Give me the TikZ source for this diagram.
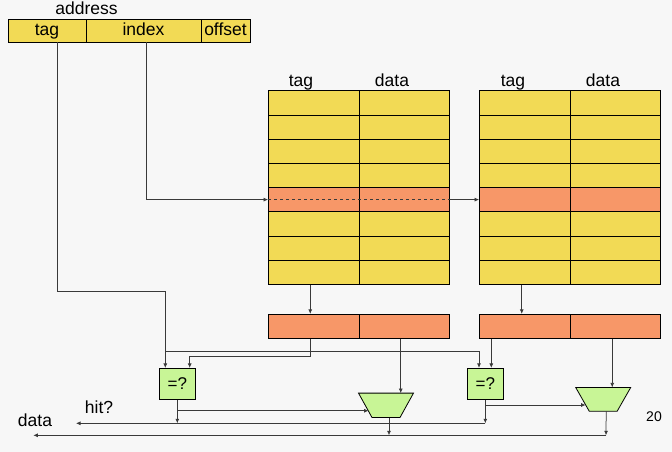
\documentclass[tikz,border=0pt]{standalone}
\usepackage{fontspec}
\setmainfont{Liberation Sans}
\usetikzlibrary{arrows.meta,positioning,calc}
\definecolor{paper}{HTML}{F7F7F7}
\definecolor{cacheY}{HTML}{F2DA55}
\definecolor{rowO}{HTML}{F79768}
\definecolor{cmpG}{HTML}{C8F596}
\definecolor{wireC}{HTML}{3A3A3A}
\tikzset{
  >={Latex[length=4.5pt,width=4pt]},
  lbl/.style={font=\fontsize{17.5}{19}\selectfont,inner sep=0pt,anchor=base},
  field/.style={draw,line width=0.8pt,fill=cacheY,minimum height=23pt,inner sep=0pt,
    font=\fontsize{17.5}{19}\selectfont,text height=12.5pt,text depth=3pt},
  cell/.style={draw,line width=0.8pt,minimum width=90.5pt,minimum height=24.2pt,inner sep=0pt},
  cmp/.style={draw,line width=0.8pt,fill=cmpG,minimum width=36pt,minimum height=31pt,
    inner sep=0pt,font=\fontsize{17}{19}\selectfont},
  mux/.style={minimum width=54.6pt,minimum height=24pt,inner sep=0pt},
  muxbody/.style={draw,line width=0.8pt,fill=cmpG},
  wire/.style={draw=wireC,line width=0.75pt},
}
\begin{document}
\begin{tikzpicture}[x=1pt,y=-1pt]
\fill[paper] (0,0) rectangle (672,452);
\useasboundingbox (0,0) rectangle (672,452);

% address
\node[lbl] (addr) at (86.5,14.5) {address};
\node[field,minimum width=78pt] (atag) at (47,30.5) {tag};
\node[field,minimum width=115pt] (aidx) at (143.5,30.5) {index};
\node[field,minimum width=49pt] (aoff) at (225.5,30.5) {offset};

% the two ways
\foreach \r/\col in {0/cacheY,1/cacheY,2/cacheY,3/cacheY,4/rowO,5/cacheY,6/cacheY,7/cacheY}{
  \node[cell,fill=\col] (c1t\r) at (313.75,{102.8+24.2*\r}) {};
  \node[cell,fill=\col] (c1d\r) at (404.25,{102.8+24.2*\r}) {};
  \node[cell,fill=\col] (c2t\r) at (524.75,{102.8+24.2*\r}) {};
  \node[cell,fill=\col] (c2d\r) at (615.25,{102.8+24.2*\r}) {};
}
\node[lbl] (h1t) at (301,86.5) {tag};
\node[lbl] (h1d) at (392,86.5) {data};
\node[lbl] (h2t) at (513,86.5) {tag};
\node[lbl] (h2d) at (603,86.5) {data};

% read-out registers
\node[cell,fill=rowO,minimum height=24pt] (r1t) at (313.75,326.3) {};
\node[cell,fill=rowO,minimum height=24pt] (r1d) at (404.25,326.3) {};
\node[cell,fill=rowO,minimum height=24pt] (r2t) at (524.75,326.3) {};
\node[cell,fill=rowO,minimum height=24pt] (r2d) at (615.25,326.3) {};

% compare and select
\node[cmp] (cmpA) at (177.3,383.8) {=?};
\node[cmp] (cmpB) at (485.3,383.8) {=?};
\node[mux] (m1) at (386,405.3) {};
\node[mux,minimum height=23.3pt] (m2) at (603.2,399.3) {};
\draw[muxbody] (m1.north west) -- (m1.north east) -- ([xshift=-13.5pt]m1.south east)
  -- ([xshift=13.5pt]m1.south west) -- cycle;
\draw[muxbody] (m2.north west) -- (m2.north east) -- ([xshift=-13.5pt]m2.south east)
  -- ([xshift=13.5pt]m2.south west) -- cycle;

\node[lbl] (hit) at (99,413.5) {hit?};
\node[lbl] (dout) at (35,426.5) {data};
\node[font=\fontsize{14}{16}\selectfont,inner sep=0pt] (pg) at (654,417) {20};

\coordinate (tagbend) at (165.3,291);
\coordinate (tagsplit) at (165.3,351);
\coordinate (selAend) at (368.6,410.7);
\coordinate (selBend) at (585.6,405);
\coordinate (hitR) at (485.3,423.3);
\coordinate (hitL) at (76,423.3);
\coordinate (dataR) at (606,435.3);
\coordinate (dataL) at (33.3,435.3);

% index selects the set
\draw[wire,->] ([xshift=3.2pt]aidx.south) |- (c1t4.west);
\draw[wire,dashed] (c1t4.west) -- (c1d4.east);
\draw[wire,->] (c1d4.east) -- (c2t4.west);

% tag to both comparators
\draw[wire,->] ([xshift=10pt]atag.south) |- (tagbend) -- ([xshift=-12pt]cmpA.north);
\draw[wire,->] (tagsplit) -| ([xshift=-6.3pt]cmpB.north);

% set read-out
\draw[wire,->] ([xshift=-3.5pt]c1t7.south) -- ([xshift=-3.5pt]r1t.north);
\draw[wire,->] ([xshift=-3pt]c2t7.south) -- ([xshift=-3pt]r2t.north);
\draw[wire,->] ([xshift=-3pt]r1t.south) -- ++(0,17.7) -| ([xshift=12.4pt]cmpA.north);
\draw[wire,->] ([xshift=6pt]cmpB.north |- r2t.south) -- ([xshift=6pt]cmpB.north);
\draw[wire,->] ([xshift=-3.5pt]r1d.south) -- ([xshift=-3.5pt]r1d.south |- m1.north);
\draw[wire,->] ([xshift=-3pt]r2d.south) -- ([xshift=-3pt]r2d.south |- m2.north);

% hit and select
\draw[wire,->] (cmpA.south) -- (cmpA.south |- hitL);
\draw[wire,->] (cmpB.south) -- (hitR);
\draw[wire,->] (hitR) -- (hitL);
\draw[wire,->] (cmpA.south |- selAend) -- (selAend);
\draw[wire,->] (cmpB.south |- selBend) -- (selBend);

% data out
\draw[wire,->] ([xshift=3pt]m1.south) -- ([xshift=3pt]m1.south |- dataL);
\draw[wire,->] ([xshift=3pt]m2.south) -- (dataR);
\draw[wire,->] (dataR) -- (dataL);

\end{tikzpicture}
\end{document}
